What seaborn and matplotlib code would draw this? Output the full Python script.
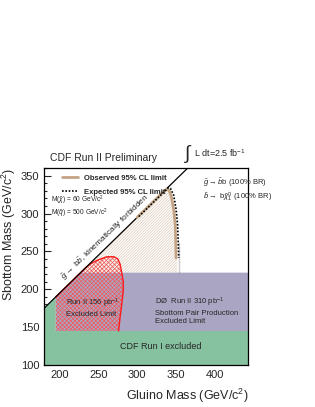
import numpy as np
import pandas as pd
import matplotlib
matplotlib.use("Agg")
import matplotlib.pyplot as plt
import seaborn as sns
from matplotlib.lines import Line2D
from matplotlib.ticker import MultipleLocator

# ---- data ----
x_lim = [180, 443]
y_lim = [100, 360]

# kinematic limit m(gluino) = m(sbottom) + m(b)
kin_x = [180, 365]
kin_y = [175, 360]

# CDF Run II 2.5 fb-1 limits
obs_x = [300, 316, 328, 334, 338, 341, 344, 347, 349, 350, 350, 350]
obs_y = [295, 311, 323, 329, 332, 331, 322, 305, 285, 262, 240, 222]
exp_x = [302, 318, 330, 336, 340, 343, 347, 350, 352, 353.5, 353.5, 353.5]
exp_y = [296, 312, 324, 330, 334, 333, 324, 306, 286, 262, 240, 222]

# CDF Run II 156 pb-1 excluded region
red_x = [195, 195, 234, 242, 250, 261, 270, 275, 278, 280, 282, 282, 280, 278, 276]
red_y = [145, 190, 229, 235, 239, 243, 243, 240, 233, 222, 210, 198, 180, 164, 145]

# D0 Run II sbottom pair production band
d0_x = [195, 443, 443, 227, 195]
d0_y = [145, 145, 222, 222, 190]

# CDF Run I excluded
run1_x = [180, 443, 443, 195, 195, 180]
run1_y = [100, 100, 145, 145, 190, 175]

sns.set_style("ticks")
plt.rcParams["font.family"] = ["Liberation Sans", "DejaVu Sans"]
plt.rcParams["mathtext.fontset"] = "custom"
plt.rcParams["mathtext.rm"] = "Liberation Sans"
plt.rcParams["mathtext.it"] = "Liberation Sans:italic"

green = "#86C1A0"
purple = "#AAA5C3"
tan = "#C4A484"

fig = plt.figure(figsize=(3.15, 4.07), dpi=100)
ax = fig.add_axes([0.14, 0.103, 0.648, 0.484])

# observed region hatching (between kinematic line and observed contour)
plt.rcParams["hatch.linewidth"] = 0.5
tan_x = [227] + obs_x + [227]
tan_y = [222] + obs_y + [222]
ax.fill(tan_x, tan_y, facecolor="white", edgecolor="#DCCAB8",
        hatch="////////////", lw=0)

ax.fill(d0_x, d0_y, color=purple, lw=0)
ax.fill(run1_x, run1_y, color=green, lw=0)
ax.fill(red_x, red_y, facecolor="none", edgecolor="#F05A5A", hatch="xxxxxxxx", lw=0)
ax.plot(red_x[1:], red_y[1:], color="#FF1A1A", lw=1.0)

sns.lineplot(x=kin_x, y=kin_y, color="black", lw=0.9, ax=ax)
sns.lineplot(x=obs_x, y=obs_y, sort=False, color=tan, lw=2.0, ax=ax)
sns.lineplot(x=exp_x, y=exp_y, sort=False, color="black", lw=1.2,
             linestyle=(0, (1, 1)), ax=ax)

ax.set_xlim(x_lim)
ax.set_ylim(y_lim)
ax.xaxis.set_major_locator(MultipleLocator(50))
ax.xaxis.set_minor_locator(MultipleLocator(10))
ax.yaxis.set_major_locator(MultipleLocator(50))
ax.yaxis.set_minor_locator(MultipleLocator(10))
ax.tick_params(which="both", direction="in", labelsize=8, width=0.8)
ax.tick_params(which="major", length=5)
ax.tick_params(which="minor", length=2.5)
for s in ax.spines.values():
    s.set_linewidth(0.9)
    s.set_color("black")

ax.set_xlabel("Gluino Mass (GeV/c$^2$)", fontsize=9, loc="right", labelpad=5)
ax.set_ylabel("Sbottom Mass (GeV/c$^2$)", fontsize=9, loc="top", labelpad=2)

handles = [Line2D([], [], color=tan, lw=2.0),
           Line2D([], [], color="black", lw=1.2, linestyle=(0, (1, 1)))]
ax.legend(handles, ["Observed 95% CL limit", "Expected 95% CL limit"],
          loc="upper left", bbox_to_anchor=(0.06, 1.0), frameon=False,
          prop={"weight": "bold", "size": 5.5},
          handlelength=2.0, borderaxespad=0.4, labelspacing=0.9)

ax.text(189, 317, r"M($\tilde{\chi}$) = 60 GeV/c$^2$", fontsize=4.8, va="center")
ax.text(189, 300, r"M($\tilde{q}$) = 500 GeV/c$^2$", fontsize=4.8, va="center")
ax.text(385, 340, r"$\tilde{g} \rightarrow \tilde{b}$b (100% BR)", fontsize=5.5, va="center")
ax.text(385, 321, r"$\tilde{b} \rightarrow$ b$\tilde{\chi}_1^0$ (100% BR)", fontsize=5.5,
        va="center")

ax.text(259, 269, r"$\tilde{g} \rightarrow$ b$\tilde{b}$, kinematically forbidden",
        fontsize=6, rotation=44, ha="center", va="center")

ax.text(208, 176, "Run II 156 pb$^{-1}$\nExcluded Limit", fontsize=5.5,
        va="center", linespacing=1.2)
ax.text(323, 172, "DØ  Run II 310 pb$^{-1}$\nSbottom Pair Production\nExcluded Limit",
        fontsize=5.5, va="center", linespacing=1.2)
ax.text(330, 124, "CDF Run I excluded", fontsize=6.5, ha="center", va="center")

fig.text(0.16, 0.605, "CDF Run II Preliminary", fontsize=7.5)
fig.text(0.585, 0.61, r"$\int$", fontsize=14)
fig.text(0.615, 0.615, "L dt=2.5 fb$^{-1}$", fontsize=6.5)

fig.savefig("out.png", dpi=100)
